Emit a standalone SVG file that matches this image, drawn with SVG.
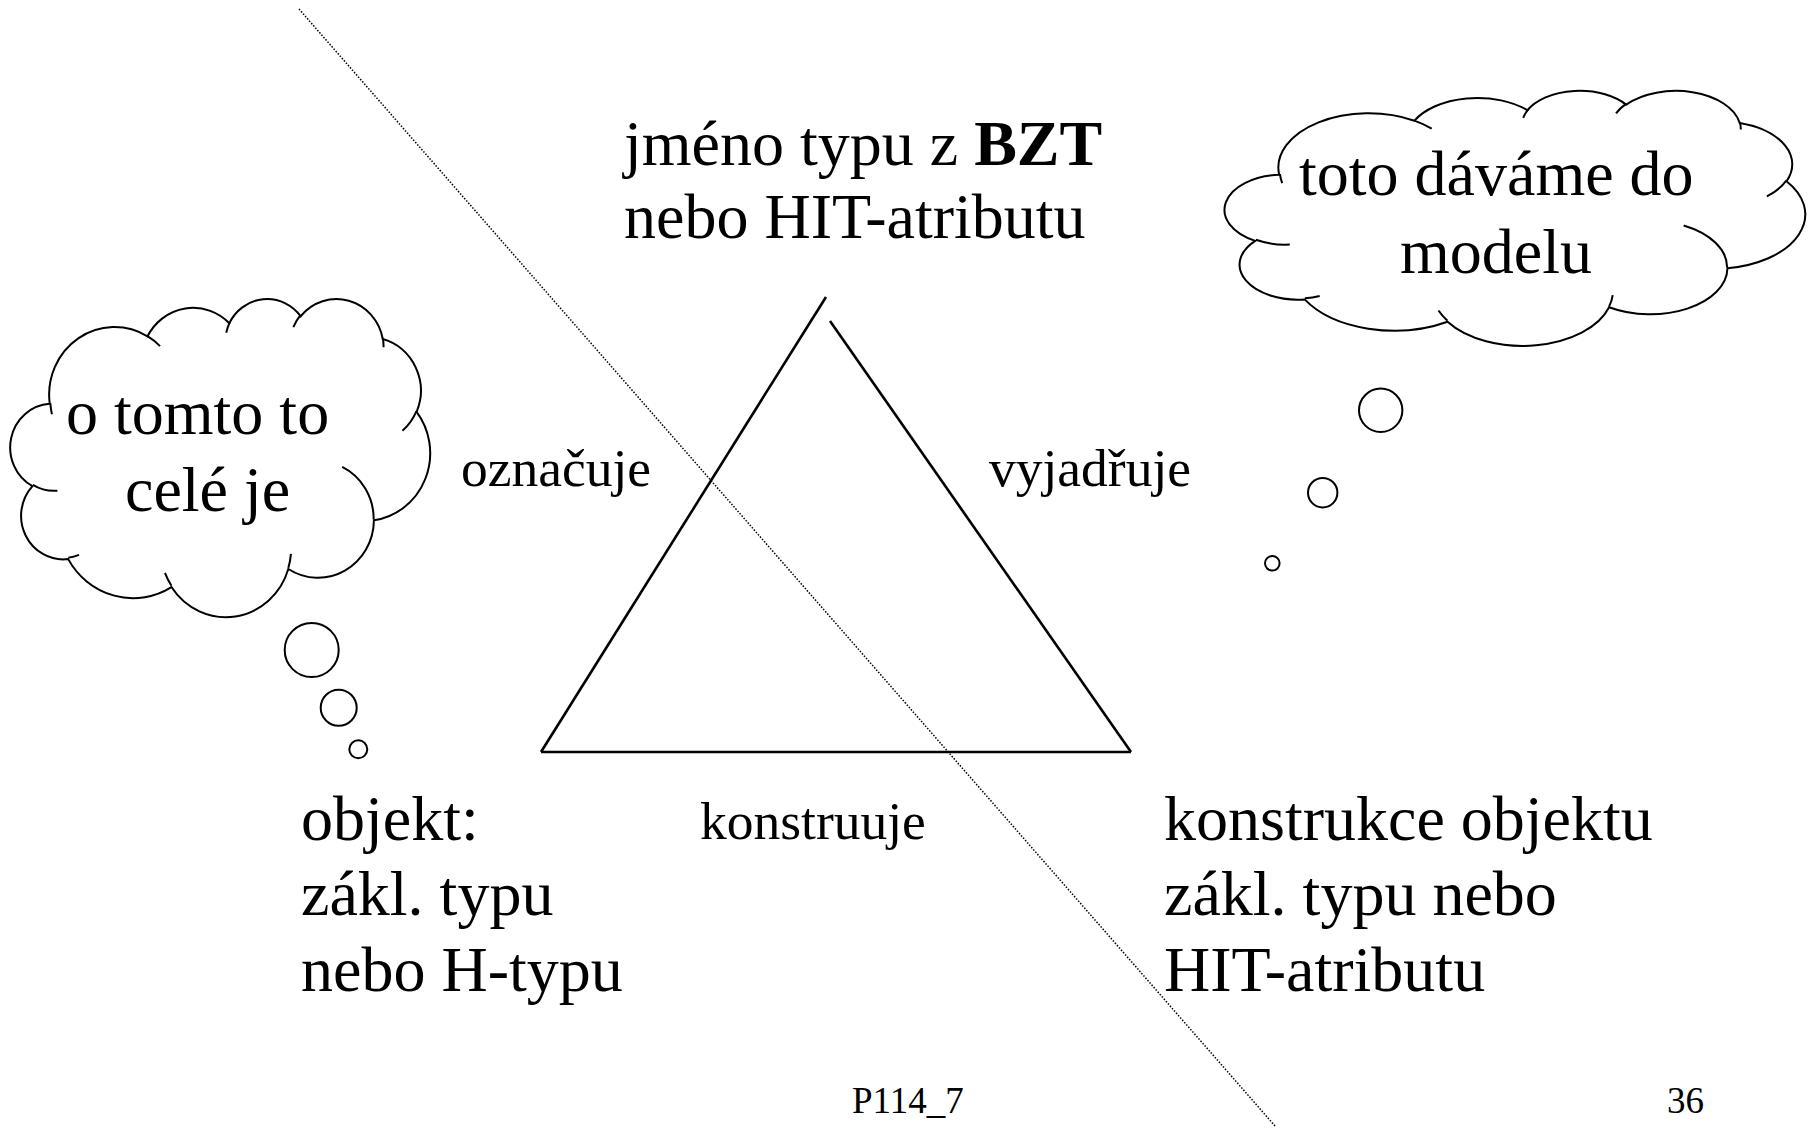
<svg xmlns="http://www.w3.org/2000/svg" xmlns:xlink="http://www.w3.org/1999/xlink" width="1813" height="1128" viewBox="0 0 1813 1128">
  <style>
    .t { font-family: "Liberation Serif", "Times New Roman", serif; fill: #000; }
    .big { font-size: 64px; }
    .mid { font-size: 53.5px; }
    .small { font-size: 37px; }
    .edge { fill: none; stroke: #000; stroke-width: 2.6; stroke-linecap: butt; }
    .bubble { fill: #fff; stroke: #000; stroke-width: 2; }
    .cloud-outline { fill: #fff; stroke: #000; stroke-width: 2; vector-effect: non-scaling-stroke; }
    .cloud-inner { fill: none; stroke: #000; stroke-width: 2; vector-effect: non-scaling-stroke; }
    .divider { fill: none; stroke: #000; stroke-width: 1.5; stroke-dasharray: 1.5 1.6; }
  </style>
  <defs>
    <!-- cloud outline in a 43200 x 43200 unit box, placed by transform -->
    <g id="cloudShape">
      <path class="cloud-outline" d="M 3900 14370 A 6753 9190 0 0 1 14005 5202 A 5333 7267 0 0 1 22456 3431 A 4365 5945 0 0 1 29833 2479 A 4857 6595 0 0 1 38318 5575 A 5333 7273 0 0 1 41818 15459 A 6775 9220 0 0 1 37404 30203 A 5785 7867 0 0 1 28556 36813 A 6752 9215 0 0 1 16482 39267 A 7720 10543 0 0 1 5807 35472 A 4360 5918 0 0 1 2115 25552 A 4345 5945 0 0 1 3900 14370 Z"/>
      <path class="cloud-inner" d="M 4693 26177 A 4345 5945 0 0 1 2160 25380 M 6928 34899 A 4360 5918 0 0 1 5820 35281 M 16478 39090 A 6752 9215 0 0 1 15809 37347 M 28827 34751 A 6752 9215 0 0 1 28560 36660 M 34129 22954 A 5785 7867 0 0 1 37380 30089 M 41798 15354 A 5333 7273 0 0 1 40351 18029 M 38324 5426 A 4857 6595 0 0 1 38400 6690 M 29078 3952 A 4857 6595 0 0 1 29820 2340 M 22141 4720 A 4365 5945 0 0 1 22500 3330 M 14000 5192 A 6753 9190 0 0 1 15300 6541 M 4127 15789 A 6753 9190 0 0 1 3958 14263"/>
    </g>
  </defs>

  <!-- dotted dividing line -->
  <g id="divider">
    <line class="divider" x1="299" y1="9" x2="1275" y2="1126"/>
  </g>

  <!-- semiotic triangle edges -->
  <g id="connectors">
    <line class="edge" x1="541" y1="752" x2="826" y2="297"/>
    <line class="edge" x1="830" y1="321" x2="1131" y2="752"/>
    <line class="edge" x1="541" y1="752" x2="1131" y2="752"/>
  </g>

  <!-- edge labels -->
  <g id="label-oznacuje">
    <text class="t mid" x="461" y="486">označuje</text>
  </g>
  <g id="label-vyjadruje">
    <text class="t mid" x="989" y="486">vyjadřuje</text>
  </g>
  <g id="label-konstruuje">
    <text class="t mid" x="700" y="839">konstruuje</text>
  </g>

  <!-- vertices -->
  <g id="node-name">
    <text class="t big" x="624" y="165">jméno typu z <tspan font-weight="bold">BZT</tspan></text>
    <text class="t big" x="624" y="238">nebo HIT-atributu</text>
  </g>
  <g id="node-object">
    <text class="t big" x="301" y="840">objekt:</text>
    <text class="t big" x="301" y="915">zákl. typu</text>
    <text class="t big" x="301" y="991">nebo H-typu</text>
  </g>
  <g id="node-construction">
    <text class="t big" x="1164" y="840">konstrukce objektu</text>
    <text class="t big" x="1164" y="915">zákl. typu nebo</text>
    <text class="t big" x="1164" y="991">HIT-atributu</text>
  </g>

  <!-- thought cloud, left -->
  <g id="cloud-left">
    <use xlink:href="#cloudShape" transform="translate(12 298) scale(0.0096759 0.0073611)"/>
    <ellipse class="bubble" cx="311.7" cy="650" rx="27" ry="27"/>
    <ellipse class="bubble" cx="338.7" cy="707.7" rx="18" ry="18"/>
    <ellipse class="bubble" cx="358.3" cy="749.3" rx="9" ry="9"/>
    <text class="t big" x="66" y="434">o tomto to</text>
    <text class="t big" x="125" y="511">celé je</text>
  </g>

  <!-- thought cloud, right -->
  <g id="cloud-right">
    <use xlink:href="#cloudShape" transform="translate(1227 90) scale(0.0133796 0.0059028)"/>
    <ellipse class="bubble" cx="1380.7" cy="410.3" rx="21.7" ry="21.7"/>
    <ellipse class="bubble" cx="1322.7" cy="492.7" rx="14.7" ry="14.7"/>
    <ellipse class="bubble" cx="1272.3" cy="563.3" rx="7.3" ry="7.3"/>
    <text class="t big" x="1299" y="195">toto dáváme do</text>
    <text class="t big" x="1400" y="273">modelu</text>
  </g>

  <!-- footer -->
  <g id="footer">
    <text class="t small" x="852" y="1113">P114_7</text>
    <text class="t small" x="1667" y="1113">36</text>
  </g>
</svg>
